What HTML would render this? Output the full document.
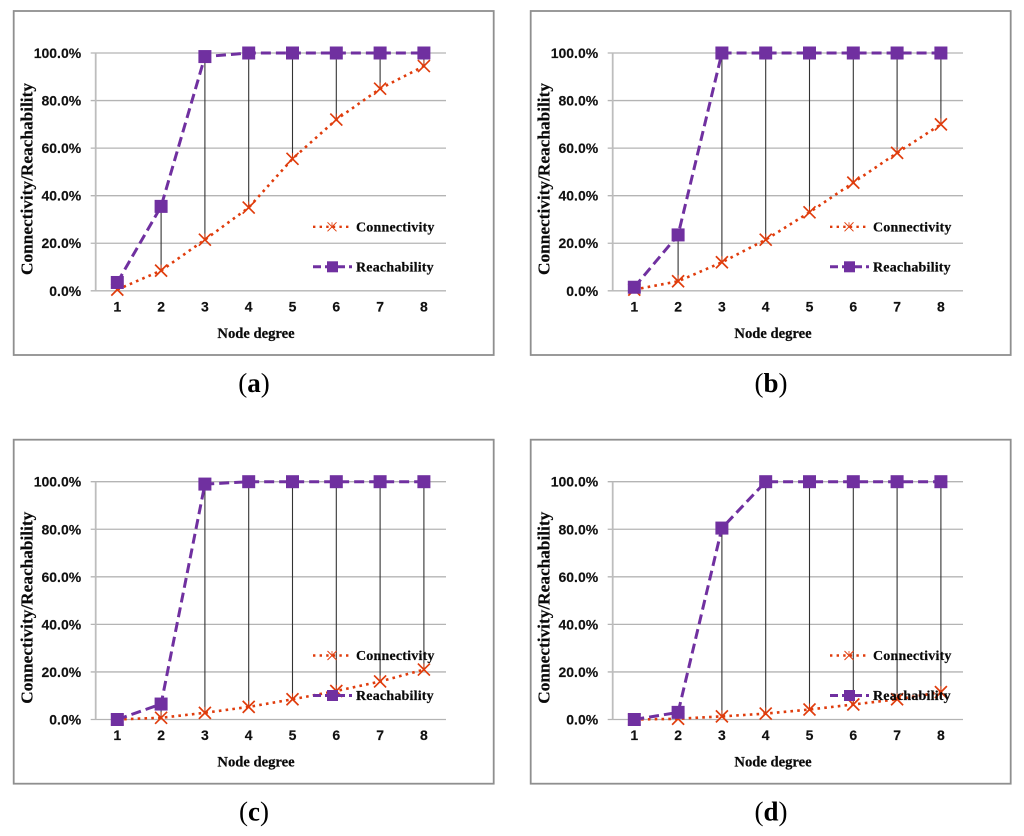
<!DOCTYPE html>
<html>
<head>
<meta charset="utf-8">
<title>Connectivity and reachability vs node degree</title>
<style>
html,body{margin:0;padding:0;background:#fff;width:1024px;height:836px;overflow:hidden}
svg{display:block;filter:blur(0.35px)}
.tick{font:bold 14px "Liberation Sans",sans-serif;fill:#111;stroke:#111;stroke-width:0.15}
.serif{font-family:"Liberation Serif",serif;font-weight:bold;fill:#0a0a0a;stroke:#0a0a0a;stroke-width:0.2}
</style>
</head>
<body>
<svg id="figure" width="1024" height="836" viewBox="0 0 1024 836" xmlns="http://www.w3.org/2000/svg"></svg>
<script>
const categories = ['1', '2', '3', '4', '5', '6', '7', '8'];
const yTickValues = [0, 20, 40, 60, 80, 100];
const yTickLabels = ['0.0%', '20.0%', '40.0%', '60.0%', '80.0%', '100.0%'];
const connectivityA = [0.5, 8.5, 21.5, 35, 55.5, 72, 85, 94.5];
const reachabilityA = [3.5, 35.5, 98.5, 100, 100, 100, 100, 100];
const connectivityB = [0.5, 4, 12, 21.5, 33, 45.5, 58, 70];
const reachabilityB = [1.5, 23.5, 100, 100, 100, 100, 100, 100];
const connectivityC = [0, 0.7, 2.8, 5.3, 8.5, 12, 16, 21];
const reachabilityC = [0, 6.5, 99, 100, 100, 100, 100, 100];
const connectivityD = [0, 0.3, 1.3, 2.5, 4.2, 6.3, 8.5, 11.5];
const reachabilityD = [0, 3, 80.5, 100, 100, 100, 100, 100];

const svg = document.getElementById('figure');
const NS = 'http://www.w3.org/2000/svg';
const RED = '#e03c0c';
const PURPLE = '#7030a0';

function make(parent, tag, props, text) {
  const node = document.createElementNS(NS, tag);
  for (const key in props) node.setAttribute(key, props[key]);
  if (text !== undefined) node.textContent = text;
  parent.appendChild(node);
  return node;
}

function drawStar(parent, cx, cy, r, width) {
  const g = make(parent, 'g', {stroke: RED, 'stroke-width': width, fill: 'none'});
  
  
  make(g, 'line', {x1: cx - r, y1: cy - r, x2: cx + r, y2: cy + r});
  make(g, 'line', {x1: cx - r, y1: cy + r, x2: cx + r, y2: cy - r});
  make(g, 'line', {x1: cx, y1: cy - r, x2: cx, y2: cy + r * 0.2, 'stroke-width': 0.8});
  return g;
}

function drawSquare(parent, cx, cy, size) {
  const s = make(parent, 'rect', {x: cx - size / 2, y: cy - size / 2, width: size, height: size, fill: PURPLE});
  
  
  return s;
}

function drawPanel(id, left, top, connectivity, reachability, caption) {
  const axisX = left + 82.7;
  const firstX = left + 104.3;
  const step = 43.8;
  const zeroY = top + 279.8;
  const plotH = 237.8;
  const gridRight = left + 433;
  const xScale = i => firstX + step * i;
  const yScale = v => zeroY - plotH * v / 100;

  const panel = make(svg, 'g', {});
  
  

  const frame = make(panel, 'rect', {x: left + 0.7, y: top, width: 480, height: 344, fill: '#fff', stroke: '#8f8f8f', 'stroke-width': 1.8});
  
  

  yTickValues.forEach((v, i) => {
    const y = yScale(v);
    const grid = make(panel, 'line', {x1: axisX - 5, x2: gridRight, y1: y, y2: y, stroke: '#b4b4b4', 'stroke-width': 1.3});
    
    
    const label = make(panel, 'text', {x: axisX - 14.5, y: y + 5, 'text-anchor': 'end', class: 'tick'}, yTickLabels[i]);
    
    
  });

  const yAxis = make(panel, 'line', {x1: axisX, x2: axisX, y1: yScale(100), y2: zeroY, stroke: '#bdbdbd', 'stroke-width': 1.8});
  
  

  categories.forEach((c, i) => {
    const label = make(panel, 'text', {x: xScale(i), y: zeroY + 20.5, 'text-anchor': 'middle', class: 'tick'}, c);
    
    
  });

  const yTitle = make(panel, 'text', {transform: 'translate(' + (left + 19.5) + ' ' + (top + 168) + ') rotate(-90)', 'text-anchor': 'middle', class: 'serif', 'font-size': 17.3}, 'Connectivity/Reachability');
  
  

  const xTitle = make(panel, 'text', {x: left + 243, y: zeroY + 47, 'text-anchor': 'middle', class: 'serif', 'font-size': 14.6}, 'Node degree');
  
  

  categories.forEach((c, i) => {
    const drop = make(panel, 'line', {x1: xScale(i), x2: xScale(i), y1: yScale(reachability[i]), y2: yScale(connectivity[i]), stroke: '#333', 'stroke-width': 1.1});
    
    
  });

  const pts = arr => arr.map((v, i) => xScale(i).toFixed(1) + ',' + yScale(v).toFixed(1)).join(' ');

  const connLine = make(panel, 'polyline', {points: pts(connectivity), fill: 'none', stroke: RED, 'stroke-width': 2.6, 'stroke-dasharray': '2.6 4.2'});
  
  

  const reachLine = make(panel, 'polyline', {points: pts(reachability), fill: 'none', stroke: PURPLE, 'stroke-width': 3, 'stroke-dasharray': '10 5'});
  
  

  connectivity.forEach((v, i) => drawStar(panel, xScale(i), yScale(v), 6, 1.7));
  reachability.forEach((v, i) => drawSquare(panel, xScale(i), yScale(v), 13));

  const legendX = left + 300;
  const legendText = legendX + 43;
  const y1 = zeroY - 64;
  const y2 = zeroY - 24;

  const legend = make(panel, 'g', {});
  
  

  const l1 = make(legend, 'line', {x1: legendX, x2: legendX + 38, y1: y1, y2: y1, stroke: RED, 'stroke-width': 2.4, 'stroke-dasharray': '2.4 4.2'});
  
  
  drawStar(legend, legendX + 19, y1, 4.5, 1);
  const t1 = make(legend, 'text', {x: legendText, y: y1 + 4.5, class: 'serif', 'font-size': 14, 'letter-spacing': 0.2}, 'Connectivity');
  
  

  const l2 = make(legend, 'line', {x1: legendX, x2: legendX + 39, y1: y2, y2: y2, stroke: PURPLE, 'stroke-width': 3, 'stroke-dasharray': '8 4'});
  
  
  drawSquare(legend, legendX + 19.5, y2, 11);
  const t2 = make(legend, 'text', {x: legendText, y: y2 + 4.5, class: 'serif', 'font-size': 14, 'letter-spacing': 0.2}, 'Reachability');
  
  

  const cap = make(panel, 'text', {x: left + 241, y: top + 381, 'text-anchor': 'middle', 'font-family': '"Liberation Serif",serif', 'font-size': 27, fill: '#000'});
  
  
  make(cap, 'tspan', {}, '(');
  make(cap, 'tspan', {'font-weight': 'bold'}, caption);
  make(cap, 'tspan', {}, ')');
}

drawPanel('a', 13, 11, connectivityA, reachabilityA, 'a');
drawPanel('b', 530, 11, connectivityB, reachabilityB, 'b');
drawPanel('c', 13, 439.7, connectivityC, reachabilityC, 'c');
drawPanel('d', 530, 439.7, connectivityD, reachabilityD, 'd');
</script>
</body>
</html>
